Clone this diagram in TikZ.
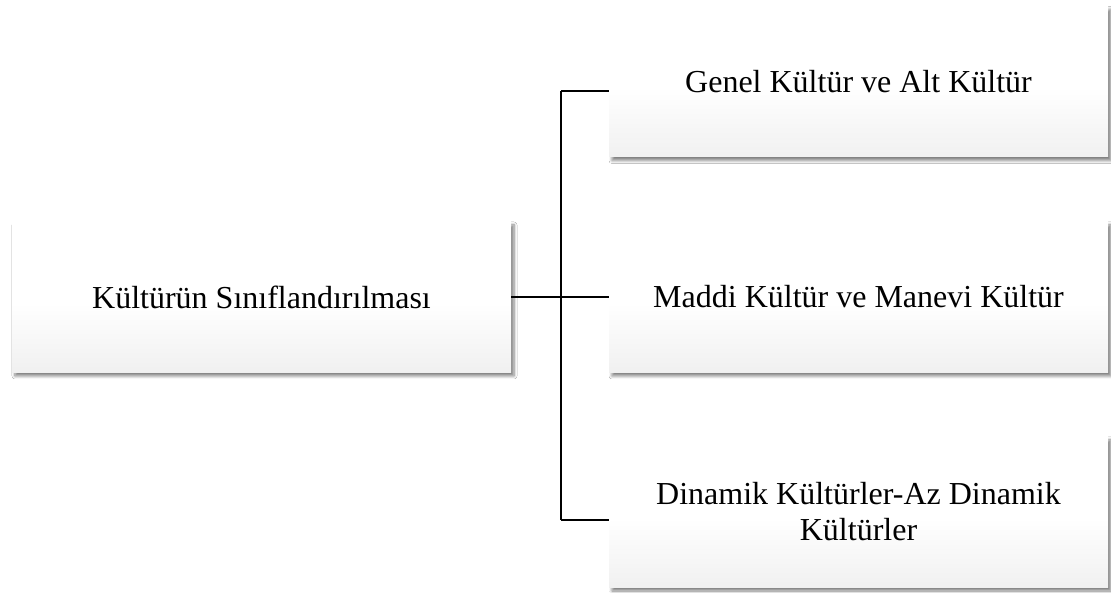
\documentclass[tikz,border=0pt]{standalone}
\usepackage{fontspec}
\setmainfont{Liberation Serif}
\usetikzlibrary{shadows.blur}
\pgfdeclareverticalshading{boxshade}{100bp}{color(0bp)=(black!12); color(20bp)=(black!7); color(48bp)=(white); color(100bp)=(white)}
\tikzset{
  box/.style={rectangle, minimum width=499pt, minimum height=151pt, inner sep=0pt,
    shading=boxshade, align=center, font=\fontsize{32}{36}\selectfont,
    blur shadow={shadow xshift=3pt, shadow yshift=-3.5pt, shadow blur steps=6, shadow blur radius=3pt, shadow opacity=50}},
  conn/.style={line width=2.8pt, black}
}
\begin{document}
\begin{tikzpicture}[x=1pt,y=1pt]
\useasboundingbox (0,0) rectangle (1111,592);
\fill[white] (0,0) rectangle (1111,592);
\node[box] (L) at (261.5,295) {Kültürün Sınıflandırılması};
\node[box] (A) at (858.5,510.5) {Genel Kültür ve Alt Kültür};
\node[box] (M) at (858.5,295) {Maddi Kültür ve Manevi Kültür};
\node[box] (B) at (858.5,80) {Dinamik Kültürler-Az Dinamik\\Kültürler};
\coordinate (jt) at (561,501);
\coordinate (jb) at (561,72);
\draw[conn] (jt) -- (jb);
\draw[conn] (L.east) -- (M.west);
\draw[conn] (jt) -- (jt -| A.west);
\draw[conn] (jb) -- (jb -| B.west);
\end{tikzpicture}
\end{document}
